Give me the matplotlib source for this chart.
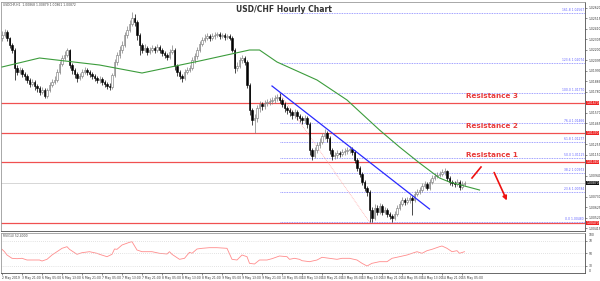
import matplotlib
matplotlib.use("Agg")
import matplotlib.pyplot as plt
import matplotlib.transforms as mtransforms
import numpy as np

# USD/CHF hourly candles (pips above 1.0000)
first_open = 232
close_pips = [
    235, 238, 232, 225, 220, 202, 198, 200, 196, 194,
    190, 186, 188, 184, 182, 178, 180, 174, 180, 185,
    188, 190, 198, 206, 212, 215, 220, 205, 200, 196,
    192, 194, 198, 200, 198, 196, 194, 192, 190, 191,
    188, 186, 184, 183, 195, 208, 215, 220, 225, 235,
    240, 246, 252, 248, 235, 225, 220, 222, 218, 220,
    222, 220, 223, 220, 217, 215, 213, 218, 220, 204,
    198, 194, 192, 198, 200, 202, 210, 214, 220, 226,
    230, 232, 234, 232, 234, 235, 236, 234, 235, 233,
    234, 232, 220, 202, 204, 210, 212, 208, 185, 160,
    150, 152, 162, 166, 164, 167, 168, 169, 170, 172,
    173, 170, 166, 162, 160, 158, 155, 158, 154, 152,
    150, 152, 146, 120, 114, 120, 125, 128, 134, 137,
    132, 120, 114, 115, 117, 116, 118, 119, 120, 121,
    118, 110, 102, 96, 88, 82, 78, 60, 52, 62,
    58, 64, 58, 60, 56, 54, 52, 56, 62, 66,
    70, 68, 70, 72, 70, 76, 78, 80, 84, 86,
    82, 88, 92, 94, 95, 96, 98, 99, 92, 88,
    87, 86, 88, 83, 86, 87]
high_pips = [
    239, 241, 240, 233, 227, 222, 205, 203, 202, 198,
    196, 192, 191, 190, 186, 184, 183, 182, 182, 188,
    191, 194, 201, 209, 215, 219, 222, 221, 207, 202,
    198, 197, 201, 203, 202, 200, 198, 196, 194, 194,
    193, 190, 188, 187, 197, 211, 218, 224, 229, 238,
    244, 250, 258, 256, 250, 237, 227, 226, 224, 223,
    225, 224, 226, 225, 222, 219, 217, 221, 225, 222,
    206, 200, 196, 201, 203, 205, 213, 217, 223, 229,
    233, 236, 237, 236, 237, 238, 238, 238, 237, 237,
    236, 236, 234, 222, 208, 213, 215, 214, 210, 187,
    162, 156, 165, 169, 168, 170, 171, 172, 173, 175,
    176, 177, 172, 168, 164, 162, 160, 161, 160, 156,
    154, 155, 154, 148, 122, 123, 128, 132, 137, 141,
    139, 134, 122, 118, 120, 119, 121, 122, 123, 124,
    123, 120, 112, 104, 98, 90, 84, 80, 63, 66,
    65, 67, 66, 63, 62, 58, 56, 59, 65, 69,
    73, 72, 73, 75, 74, 79, 81, 83, 87, 89,
    88, 91, 95, 97, 98, 99, 101, 102, 100, 94,
    90, 89, 91, 90, 89, 89]
low_pips = [
    229, 233, 229, 222, 217, 190, 195, 196, 193, 190,
    187, 183, 184, 180, 178, 175, 176, 172, 172, 178,
    183, 186, 188, 196, 204, 210, 213, 202, 196, 192,
    188, 190, 192, 196, 195, 193, 191, 189, 187, 187,
    185, 183, 181, 180, 181, 193, 205, 212, 217, 223,
    232, 238, 244, 244, 230, 215, 217, 218, 215, 216,
    218, 217, 218, 217, 214, 212, 210, 211, 216, 200,
    194, 191, 188, 190, 196, 198, 200, 207, 211, 218,
    224, 228, 230, 229, 230, 231, 233, 231, 232, 230,
    231, 230, 218, 197, 199, 202, 207, 205, 182, 155,
    145, 137, 148, 158, 160, 161, 164, 165, 166, 167,
    169, 167, 163, 158, 156, 154, 151, 152, 150, 148,
    146, 147, 142, 115, 110, 112, 117, 122, 126, 131,
    128, 116, 110, 111, 112, 113, 114, 115, 116, 117,
    115, 107, 99, 93, 85, 79, 74, 48, 48, 50,
    55, 56, 55, 56, 53, 51, 48, 50, 54, 60,
    64, 65, 66, 67, 55, 68, 74, 76, 78, 82,
    80, 80, 86, 90, 92, 93, 94, 95, 89, 85,
    84, 83, 84, 80, 81, 84]

# moving average (green), vertices
ma_bar = [0, 15, 39, 56, 79, 99, 103, 110, 126, 138, 151, 159, 167, 175, 179, 191]
ma_pips = [203, 212, 205, 197, 209, 220, 220, 208, 190, 170, 140, 123, 107, 92, 88, 80]

# RSI(14) sub window
rsi_bar = [0, 1, 2, 4, 6, 8, 10, 12, 15, 16, 18, 20, 23, 24, 26, 27, 30, 32, 35, 38,
           39, 42, 44, 45, 46, 48, 51, 52, 54, 56, 60, 63, 66, 67, 68, 71, 73, 75, 76, 78,
           80, 83, 86, 90, 92, 94, 96, 98, 99, 101, 103, 106, 108, 111, 114, 115, 117, 119, 120, 123,
           126, 128, 131, 134, 136, 139, 142, 144, 146, 148, 151, 154, 156, 159, 162, 164, 166, 168, 170, 172,
           175, 176, 178, 180, 182, 183, 185]
rsi_val = [56.2, 52.4, 47.1, 41.8, 41.2, 41.8, 39.1, 39.1, 39.1, 37.5, 40.2, 47.1, 55.1, 57.8, 60.4, 56.2, 48.2, 50.8, 52.4, 49.8,
           48.2, 44.4, 48.2, 56.7, 56.2, 63.1, 67.4, 68.4, 55.1, 52.4, 52.4, 49.8, 48.7, 52.4, 48.2, 40.2, 41.8, 51.4, 49.8, 56.7,
           57.8, 58.8, 58.8, 57.8, 40.2, 39.1, 47.1, 44.4, 33.8, 32.7, 39.1, 39.1, 41.2, 45.5, 44.4, 40.2, 41.8, 40.2, 38.0, 36.4,
           39.1, 43.4, 41.8, 40.2, 41.8, 41.8, 39.1, 33.8, 29.5, 33.8, 36.4, 36.4, 41.8, 44.4, 47.1, 49.8, 52.4, 49.8, 54.0, 56.2,
           60.4, 61.5, 57.8, 52.4, 54.0, 49.8, 52.4]

# drawn objects
fib_low, fib_high = 1.0048, 1.0177
fib_levels = [0.0, 23.6, 38.2, 50.0, 61.8, 76.4, 100.0, 123.6, 161.8]
resistances = [(1.0108, "Resistance 1"), (1.0137, "Resistance 2"), (1.0167, "Resistance 3")]
support = 1.0047
trend_bar = [108, 171]
trend_price = [1.0184, 1.0061]
move_bar = [188, 191.6]
move_price = [1.0092, 1.0103]
arrow_bar = [196.4, 202.4]
arrow_price = [1.0100, 1.0067]

x_labels = ["2 May 2019", "3 May 21:00", "6 May 05:00", "6 May 13:00", "6 May 21:00",
            "7 May 05:00", "7 May 13:00", "7 May 21:00", "8 May 05:00", "8 May 13:00",
            "8 May 21:00", "9 May 05:00", "9 May 13:00", "9 May 21:00", "10 May 05:00",
            "10 May 13:00", "10 May 21:00", "13 May 05:00", "13 May 13:00", "13 May 21:00",
            "14 May 05:00", "14 May 13:00", "14 May 21:00", "15 May 05:00"]

plt.rcParams['font.family'] = 'DejaVu Sans'
tiny = 2.2

close = 1 + np.array(close_pips) / 10000
high = 1 + np.array(high_pips) / 10000
low = 1 + np.array(low_pips) / 10000
opn = np.concatenate([[1 + first_open / 10000], close[:-1]])
idx = np.arange(len(close))

fig = plt.figure(figsize=(6.0, 2.81), dpi=100)
ax = fig.add_axes([1 / 600, 50 / 281, 584 / 600, 229 / 281])
rax = fig.add_axes([1 / 600, 8 / 281, 584 / 600, 40 / 281])

xmin, xmax = -0.4, 233.2
ax.set_xlim(xmin, xmax)
ax.set_ylim(1.0039, 1.0268)

# horizontal levels
for lvl, name in resistances:
    ax.axhline(lvl, color='#f05050', lw=0.9, zorder=1)
    ax.text(196, lvl + 0.0004, name, color='#e83a3a', fontsize=5.2, fontweight='bold',
            ha='center', va='bottom', zorder=6)
ax.axhline(support, color='#f05050', lw=0.9, zorder=1)
ax.axhline(close[-1], color='#d0d0d0', lw=0.6, zorder=1)

# fibonacci
rng = fib_high - fib_low
for f in fib_levels:
    p = fib_low + rng * f / 100
    ax.plot([111, xmax], [p, p], color='#8080ff', lw=0.6, ls=(0, (1, 1)), zorder=2)
    ax.text(xmax - 0.4, p + 0.00008, f"{f:.1f} {p:.5f}", color='#6060ff', fontsize=tiny,
            ha='right', va='bottom', zorder=3)
ax.plot([111, 147], [fib_high, fib_low], color='#ffb0b0', lw=0.6, ls=(0, (1, 1)), zorder=2)

# candles
up = close >= opn
wick_col = np.where(up, '#808080', '#000000')
ax.vlines(idx, low, high, colors=wick_col, lw=0.5, zorder=3)
body = np.abs(close - opn)
body = np.where(body < 0.00005, 0.00005, body)
ax.bar(idx[up], body[up], bottom=np.minimum(opn, close)[up], width=0.7,
       color='white', edgecolor='#707070', lw=0.4, zorder=4)
ax.bar(idx[~up], body[~up], bottom=np.minimum(opn, close)[~up], width=0.7,
       color='black', edgecolor='black', lw=0.4, zorder=4)

# MA and trend lines
ax.plot(ma_bar, 1 + np.array(ma_pips) / 10000, color='#3c9c3c', lw=0.8, zorder=5)
ax.plot(trend_bar, trend_price, color='#2a2aff', lw=0.9, zorder=5)
ax.plot(move_bar, move_price, color='#ee1111', lw=1.2, zorder=5)
ax.annotate('', xy=(arrow_bar[1], arrow_price[1]), xytext=(arrow_bar[0], arrow_price[0]),
            arrowprops=dict(arrowstyle='-|>', color='#ee1111', lw=1.2, mutation_scale=6), zorder=5)

ax.text(0.485, 0.985, "USD/CHF Hourly Chart", transform=ax.transAxes, fontsize=5.5,
        fontweight='bold', color='#333333', ha='center', va='top', zorder=6)
ax.text(0.004, 0.995, "USDCHF,H1  1.00868 1.00879 1.00861 1.00872", transform=ax.transAxes,
        fontsize=tiny, color='#444444', va='top', ha='left')

# right price axis; ticks hidden behind the coloured price boxes are left out
box_levels = [r[0] for r in resistances] + [support, close[-1]]
ticks = [t for t in np.arange(1.00415, 1.0265, 0.00105)
         if min(abs(t - b) for b in box_levels) > 0.0004]
ax.yaxis.tick_right()
ax.set_yticks(ticks)
ax.yaxis.set_major_formatter(matplotlib.ticker.FormatStrFormatter('%.5f'))
ax.tick_params(axis='y', labelsize=tiny, length=1.5, width=0.4, pad=1, colors='#333333')
ax.set_xticks([])
trans = mtransforms.blended_transform_factory(ax.transAxes, ax.transData)
for lvl in [r[0] for r in resistances] + [support]:
    ax.text(1.002, lvl, f"{lvl:.5f}", transform=trans, fontsize=tiny, color='white',
            va='center', ha='left', bbox=dict(boxstyle='square,pad=0.15', fc='#ee2222', ec='none'),
            zorder=7, clip_on=False)
ax.text(1.002, close[-1], f"{close[-1]:.5f}", transform=trans, fontsize=tiny, color='white',
        va='center', ha='left', bbox=dict(boxstyle='square,pad=0.15', fc='#111111', ec='none'),
        zorder=7, clip_on=False)

for a in (ax, rax):
    for s in a.spines.values():
        s.set_color('#9a9a9a')
        s.set_linewidth(0.6)
    a.spines['right'].set_color('#505050')
    a.spines['bottom'].set_color('#505050')

# RSI window
rax.set_xlim(xmin, xmax)
rax.set_ylim(18.3, 82.3)
rax.plot(rsi_bar, rsi_val, color='#ff8c8c', lw=0.6)
for lv in (30, 50, 70):
    rax.axhline(lv, color='#c8c8c8', lw=0.5, ls=(0, (1, 2)))
rax.yaxis.tick_right()
rax.set_yticks([30, 50, 70])
rax.tick_params(axis='y', labelsize=tiny, length=1.5, width=0.4, pad=1, colors='#333333')
rtrans = rax.transAxes
rax.text(1.006, 1.0, "100", transform=rtrans, fontsize=tiny, color='#333333', va='top')
rax.text(1.006, 0.0, "0", transform=rtrans, fontsize=tiny, color='#333333', va='bottom')
rax.text(0.004, 0.98, f"RSI(14) {rsi_val[-1]:.4f}", transform=rtrans, fontsize=tiny,
         color='#444444', va='top')
rax.set_xticks(np.arange(0, 8 * len(x_labels), 8))
rax.set_xticklabels(x_labels, ha='left')
rax.tick_params(axis='x', labelsize=tiny, length=1.5, width=0.4, pad=1, colors='#333333')

fig.savefig("out.png", dpi=100, facecolor='white')
